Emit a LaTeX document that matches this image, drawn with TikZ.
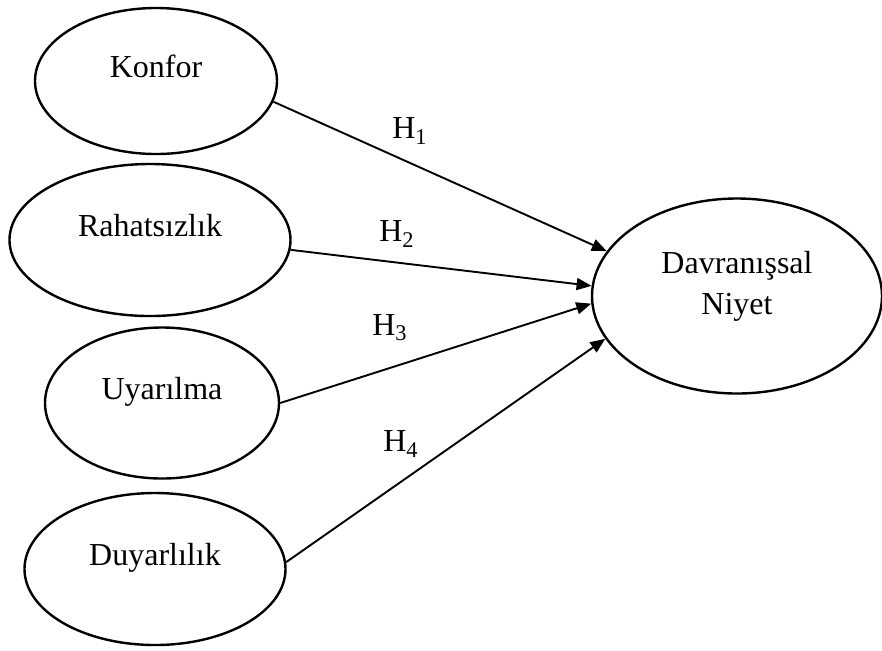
\documentclass[tikz,border=0pt]{standalone}
\usepackage{fontspec}
\setmainfont{Liberation Serif}
\usetikzlibrary{shapes.geometric,arrows.meta}

\begin{document}
\begin{tikzpicture}[>={Triangle[length=7.5pt,width=6pt]},x=.5pt,y=-.5pt,
  every node/.append style={font=\fontsize{16}{20.5}\selectfont},
  ovalbox/.style={ellipse,draw,line width=1.2pt,inner sep=0pt},
  oval/.style={ovalbox,text height=11pt,text depth=15pt},
  path/.style={->,line width=.95pt}]
\useasboundingbox (0,0) rectangle (882,650);
\node[oval,minimum width=121pt,minimum height=73pt] (konfor) at (156,81) {Konfor};
\node[oval,minimum width=140.5pt,minimum height=76pt] (rahat) at (150,240) {Rahatsızlık};
\node[oval,minimum width=117pt,minimum height=75.5pt] (uyar) at (162,403) {Uyarılma};
\node[oval,minimum width=130.5pt,minimum height=76pt] (duyar) at (155,569) {Duyarlılık};
\node[ovalbox,minimum width=145pt,minimum height=97.5pt,align=center,text depth=13.5pt] (niyet) at (737,296) {Davranışsal\\Niyet};
\draw[path] (konfor.-10)--(niyet.161);
\draw[path] (rahat.-4)--(niyet.176);
\draw[path] (uyar.east)--(niyet.-177);
\draw[path] (duyar.3)--(niyet.-162);
\node (h1) at (410,131) {H\textsubscript{1}};
\node (h2) at (397,234) {H\textsubscript{2}};
\node (h3) at (390,328) {H\textsubscript{3}};
\node (h4) at (401,444) {H\textsubscript{4}};
\end{tikzpicture}
\end{document}
